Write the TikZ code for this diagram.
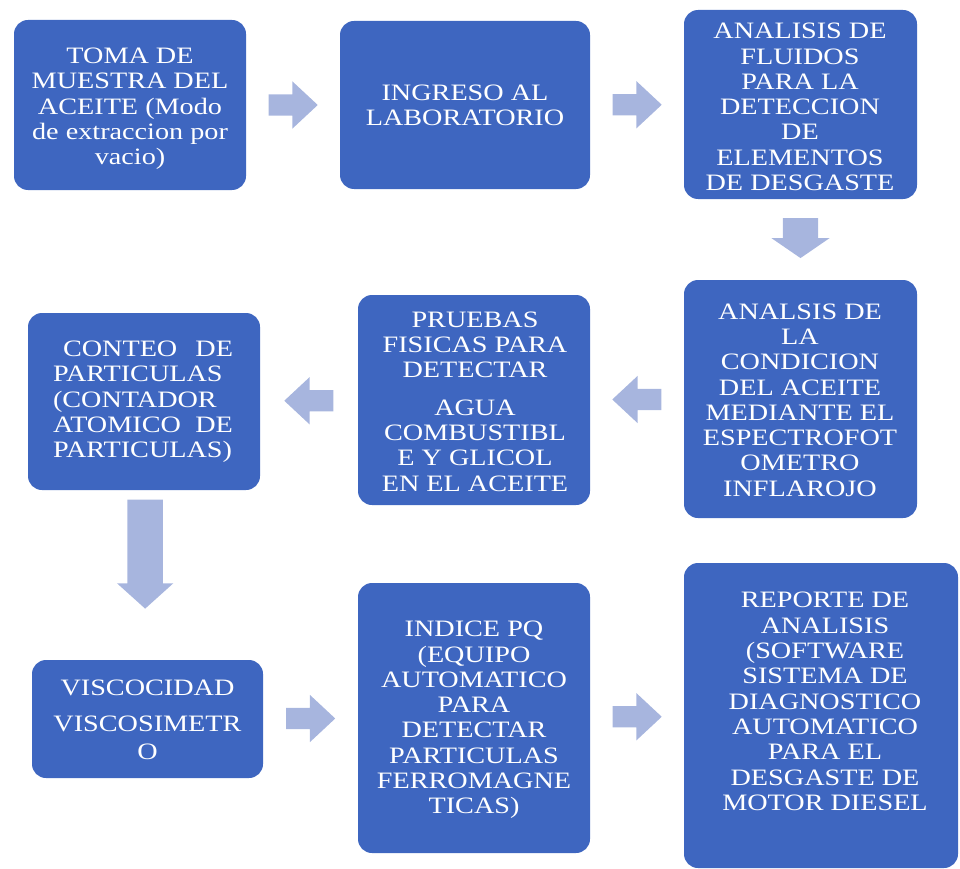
\documentclass[tikz,border=0pt]{standalone}
\usepackage{fontspec}
\setmainfont{Liberation Serif}[FakeStretch=1.2]
\usetikzlibrary{shapes.arrows,calc}
\definecolor{boxblue}{RGB}{62,102,192}
\definecolor{arrowblue}{RGB}{167,181,222}
\tikzset{
  stepbox/.style={rectangle, rounded corners=14pt, fill=boxblue, draw=none, inner sep=0pt},
  steptext/.style={text=white, align=center, inner sep=0pt,
    font=\fontsize{23.5}{25.3}\selectfont},
  flowarrow/.style={single arrow, fill=arrowblue, draw=none},
  sidearrow/.style={flowarrow, inner xsep=0pt, inner ysep=10.5pt, single arrow head extend=13pt,
    minimum height=49pt, single arrow tip angle=86},
  rightarrow/.style={sidearrow, xshift=-5.5pt},
  leftarrow/.style={sidearrow, shape border rotate=180, xshift=5.5pt},
  downarrow/.style={flowarrow, shape border rotate=270, inner ysep=0pt, inner xsep=17.5pt}
}
\begin{document}
\begin{tikzpicture}[x=1pt,y=-1pt]
\useasboundingbox (0,0) rectangle (960,869);

% boxes
\node[stepbox, minimum width=232pt, minimum height=170pt] (b1) at (130,105) {};
\node[stepbox, minimum width=250pt, minimum height=168pt] (b2) at (465,105) {};
\node[stepbox, minimum width=233pt, minimum height=189pt] (b3) at (800.5,104.5) {};
\node[stepbox, minimum width=233pt, minimum height=238pt] (b4) at (800.5,399) {};
\node[stepbox, minimum width=232pt, minimum height=210pt] (b5) at (474,400) {};
\node[stepbox, minimum width=232pt, minimum height=177pt] (b6) at (144,401.5) {};
\node[stepbox, minimum width=231pt, minimum height=118pt] (b7) at (147.5,719) {};
\node[stepbox, minimum width=232pt, minimum height=270pt] (b8) at (474,718) {};
\node[stepbox, minimum width=274pt, minimum height=305pt] (b9) at (821,715.5) {};

% texts
\node[steptext] (t1) at (130,109) {TOMA DE\\MUESTRA DEL\\ACEITE (Modo\\de extraccion por\\vacio)};
\node[steptext] (t2) at (465,105) {INGRESO AL\\LABORATORIO};
\node[steptext] (t3) at (800,107) {ANALISIS DE\\FLUIDOS\\PARA LA\\DETECCION\\DE\\ELEMENTOS\\DE DESGASTE};
\node[steptext] (t4) at (800,400) {ANALSIS DE\\LA\\CONDICION\\DEL ACEITE\\MEDIANTE EL\\ESPECTROFOT\\OMETRO\\INFLAROJO};
\node[steptext] (t5) at (475,401.5) {PRUEBAS\\FISICAS PARA\\DETECTAR\\[12pt]AGUA\\COMBUSTIBL\\E Y GLICOL\\EN EL ACEITE};
\node[steptext, align=left] (t6) at (143,402) {\hspace*{10pt}\makebox[170pt][s]{CONTEO DE}\\PARTICULAS\\(CONTADOR\\\makebox[180pt][s]{ATOMICO DE}\\PARTICULAS)};
\node[steptext] (t7) at (147.5,720) {VISCOCIDAD\\[10pt]VISCOSIMETR\\[3pt]O};
\node[steptext] (t8) at (474,720) {INDICE PQ\\(EQUIPO\\AUTOMATICO\\PARA\\DETECTAR\\PARTICULAS\\FERROMAGNE\\TICAS)};
\node[steptext] (t9) at (825,701.5) {REPORTE DE\\ANALISIS\\(SOFTWARE\\SISTEMA DE\\DIAGNOSTICO\\AUTOMATICO\\PARA EL\\DESGASTE DE\\MOTOR DIESEL};

% block arrows between the steps
\node[rightarrow] (a1) at ($(b1.east)!0.5!(b2.west)$) {};
\node[rightarrow] (a2) at ($(b2.east)!0.5!(b3.west)$) {};
\node[downarrow, single arrow head extend=11.5pt, minimum height=40pt,
  single arrow tip angle=111, yshift=7.5pt] (a3) at ($(b3.south)!0.5!(b4.north)$) {};
\node[leftarrow] (a4) at ($(b4.west)!0.5!(b5.east)$) {};
\node[leftarrow] (a5) at ($(b5.west)!0.5!(b6.east)$) {};
\node[downarrow, single arrow head extend=10.5pt, minimum height=109pt,
  single arrow tip angle=96] (a6) at ($(b6.south)!0.33!(b7.north)$) {};
\node[rightarrow] (a7) at ($(b7.east)!0.5!(b8.west)$) {};
\node[rightarrow] (a8) at ($(b8.east)!0.5!(b9.west)$) {};
\end{tikzpicture}
\end{document}
